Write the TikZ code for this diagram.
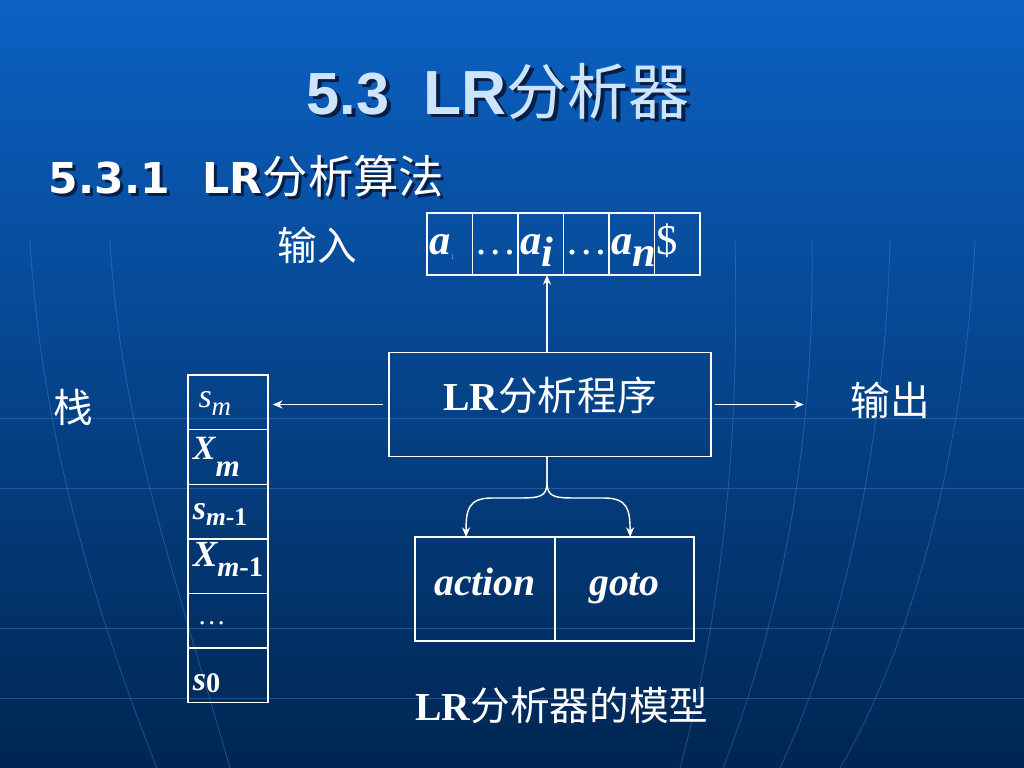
\documentclass[tikz,border=0pt]{standalone}
\usepackage{fontspec}
\setmainfont{Liberation Serif}
\setsansfont{Liberation Sans}
\newfontfamily\cjk{Noto Sans CJK SC}
\newfontfamily\subfont{DejaVu Sans}
\usetikzlibrary{positioning}
\usetikzlibrary{arrows.meta}

\definecolor{slidetop}{RGB}{11,97,195}
\definecolor{slidemid}{RGB}{8,78,158}
\definecolor{slidebot}{RGB}{0,38,82}
\definecolor{titleblue}{RGB}{205,228,250}
\definecolor{shadowblue}{RGB}{8,30,70}
\definecolor{gridblue}{RGB}{80,150,235}
\newcommand\fsz[1]{\fontsize{#1}{#1}\selectfont}

\begin{document}
\begin{tikzpicture}[x=0.24804mm,y=-0.24804mm,line width=1pt,
  >={Stealth[length=2.4mm,width=2mm]},
  cell/.style={draw=white,inner sep=0pt,outer sep=0pt,text=white,align=left},
  tape cell/.style={cell,minimum width=11.29mm,minimum height=15.38mm,
    inner xsep=0.6mm,text width=10.09mm,text height=8mm,text depth=2.6mm,font=\fsz{30}},
  stack cell/.style={cell,minimum width=19.84mm,minimum height=13.55mm,
    inner xsep=1.2mm,text width=17.44mm,text depth=1mm,font=\fsz{24}},
  box node/.style={cell,align=center,minimum height=25.8mm,font=\fsz{28}\bfseries},
  label text/.style={text=white,inner sep=0pt,font=\fsz{28}\cjk},
  title text/.style={anchor=base west,inner sep=0pt,font=\sffamily\bfseries},
  flow/.style={draw=white,->},
  grid line/.style={draw=gridblue,line width=0.6pt,opacity=0.35}]

  \useasboundingbox (0,0) rectangle (1024,768);
  \shade[top color=slidetop,middle color=slidemid,bottom color=slidebot]
    (0,0) rectangle (1024,768);

  % faint globe lines of the slide background
  \draw[grid line] (0,418) -- (1024,418);
  \draw[grid line] (0,488) -- (1024,488);
  \draw[grid line] (0,628) -- (1024,628);
  \draw[grid line] (0,698) -- (1024,698);
  \draw[grid line] (30,240) .. controls (40,420) and (90,600) .. (157,768);
  \draw[grid line] (110,240) .. controls (120,420) and (170,560) .. (230,768);
  \draw[grid line] (735,240) .. controls (740,450) and (720,620) .. (680,768);
  \draw[grid line] (812,240) .. controls (815,450) and (780,620) .. (723,768);
  \draw[grid line] (890,240) .. controls (885,450) and (840,640) .. (780,768);
  \draw[grid line] (975,240) .. controls (965,450) and (910,650) .. (840,768);

  % titles
  \node[title text,text=shadowblue] (titleShadow) at (310,118)
    {\fsz{42}5.3\hspace{24pt}{\fsz{44}LR}{\cjk\mdseries\fsz{43}分析器}};
  \node[title text,text=titleblue] (title) at (306,115)
    {\fsz{42}5.3\hspace{24pt}{\fsz{44}LR}{\cjk\mdseries\fsz{43}分析器}};
  \node[title text,text=shadowblue] (subShadow) at (51,196)
    {{\subfont\fsz{30}5.3.1\hspace{0.78em}LR}{\cjk\mdseries\fsz{32}分析算法}};
  \node[title text,text=white] (subtitle) at (48,193)
    {{\subfont\fsz{30}5.3.1\hspace{0.78em}LR}{\cjk\mdseries\fsz{32}分析算法}};

  % input tape
  \node[label text] (inLabel) at (317,245) {输入};
  \node[tape cell] (t1) at (449.75,244)
    {\textbf{\textit{a}}\raisebox{-3pt}{\fsz{5}\textcolor{white!60!blue}{1}}};
  \node[tape cell] (t2) [right=0pt of t1] {\ldots};
  \node[tape cell] (t3) [right=0pt of t2] {\textbf{\textit{a\raisebox{-8.5pt}{i}}}};
  \node[tape cell] (t4) [right=0pt of t3] {\ldots};
  \node[tape cell] (t5) [right=0pt of t4] {\textbf{\textit{a\raisebox{-8.5pt}{n}}}};
  \node[tape cell] (t6) [right=0pt of t5] {\$};

  % stack
  \node[label text] (stackLabel) at (73,407) {栈};
  \node[stack cell,text height=3.7mm] (s1) at (228,402.3)
    {\,\textit{s\raisebox{-5.6pt}{\fsz{19}m}}};
  \node[stack cell,text height=2.5mm] (s2) [below=0pt of s1]
    {\textbf{\textit{X\raisebox{-12pt}{\fsz{22}m}}}};
  \node[stack cell,text height=5mm] (s3) [below=0pt of s2]
    {\textbf{\textit{s\raisebox{-4pt}{\fsz{18}m\upshape-1}}}};
  \node[stack cell,text height=1mm] (s4) [below=0pt of s3]
    {\fsz{26}\textbf{\textit{X\raisebox{-7pt}{\fsz{20}m\upshape-1}}}};
  \node[stack cell,text height=3mm] (s5) [below=0pt of s4]
    {\fsz{20}\,\ldots};
  \node[stack cell,text height=8.4mm] (s6) [below=0pt of s5]
    {\textbf{\textit{s\raisebox{-1.5pt}{\fsz{20}\upshape 0}}}};

  % driver program and tables
  \node[box node,minimum width=79.87mm,text height=7mm,text depth=3.8mm]
    (LRbox) at (550,404.5) {LR{\cjk\mdseries 分析程序}};
  \node[label text] (outLabel) at (890,400) {输出};
  \node[box node,minimum width=34.7mm,text height=6mm,text depth=3mm,
    font=\fsz{28}\bfseries\itshape] (action) at (485,589) {action};
  \node[box node,minimum width=34.5mm,text height=6mm,text depth=3mm,
    font=\fsz{28}\bfseries\itshape] (goto) [right=0pt of action] {goto};
  \node[label text] (caption) at (562,705) {{\rmfamily\bfseries LR}分析器的模型};

  \coordinate (fork) at (547,482);
  \draw[flow] (fork |- LRbox.north) -- (fork |- t3.south);
  \draw[flow,shorten <=1.5mm,shorten >=1.2mm] (LRbox.west) -- (LRbox.west -| s1.east);
  \draw[flow,shorten <=1mm,shorten >=11.4mm] (LRbox.east) -- (LRbox.east -| outLabel.west);
  \draw[flow] (fork |- LRbox.south) -- (fork)
    .. controls (547,497) and (540,498) .. (518,498) -- (492,498)
    .. controls (468,498) and (466,510) .. ([xshift=-4.7mm]action.north);
  \draw[flow] (fork |- LRbox.south) -- (fork)
    .. controls (547,497) and (554,498) .. (576,498) -- (604,498)
    .. controls (628,498) and (630,510) .. ([xshift=1.4mm]goto.north);
\end{tikzpicture}
\end{document}
